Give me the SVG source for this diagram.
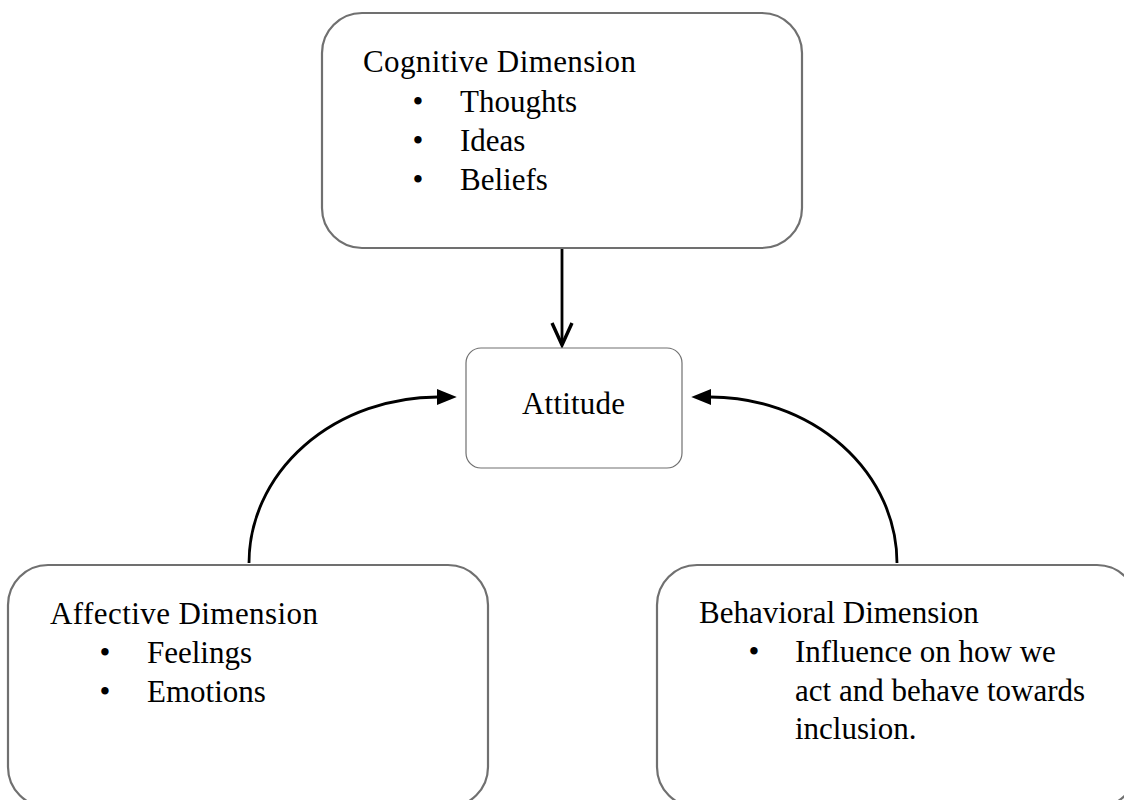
<svg xmlns="http://www.w3.org/2000/svg" width="1124" height="800" viewBox="0 0 1124 800">
<defs>
<style>
.box{fill:#fff;stroke:#707070;stroke-width:2.2}
.small{fill:#fff;stroke:#707070;stroke-width:1.2}
.t{font-family:"Liberation Serif","Times New Roman",serif;font-size:31px;fill:#000}
.conn{fill:none;stroke:#000;stroke-width:2.8}
</style>
<marker id="fill" markerUnits="userSpaceOnUse" markerWidth="20" markerHeight="20" viewBox="0 0 16 14" refX="1" refY="7" orient="auto">
<path d="M0,0.5 L16,7 L0,13.5 z" fill="#000"/>
</marker>
<marker id="open" markerUnits="userSpaceOnUse" markerWidth="30" markerHeight="30" viewBox="-26 -14 30 28" refX="0" refY="0" orient="auto">
<path d="M-22,-10 L0,0 L-22,10" fill="none" stroke="#000" stroke-width="3.4" stroke-linejoin="miter"/>
</marker>
</defs>
<rect width="1124" height="800" fill="#fff"/>
<g id="connectors">
<path class="conn" d="M562,248 L562,345" stroke-width="3" marker-end="url(#open)"/>
<path class="conn" d="M249,563 A189 166 0 0 1 438,397" marker-end="url(#fill)"/>
<path class="conn" d="M897,563 A187 166 0 0 0 710,397" marker-end="url(#fill)"/>
</g>
<g id="cognitive">
<rect class="box" x="322" y="13" width="480" height="235" rx="40" ry="40"/>
<text class="t" x="363" y="72" textLength="273">Cognitive Dimension</text>
<text class="t" x="418" y="112" text-anchor="middle">•</text>
<text class="t" x="460" y="112">Thoughts</text>
<text class="t" x="418" y="151" text-anchor="middle">•</text>
<text class="t" x="460" y="151">Ideas</text>
<text class="t" x="418" y="190" text-anchor="middle">•</text>
<text class="t" x="460" y="190">Beliefs</text>
</g>
<g id="attitude">
<rect class="small" x="466" y="348" width="216" height="120" rx="15" ry="15"/>
<text class="t" x="522" y="414" textLength="103">Attitude</text>
</g>
<g id="affective">
<rect class="box" x="8" y="565" width="480" height="242" rx="40" ry="40"/>
<text class="t" x="50" y="624" textLength="268">Affective Dimension</text>
<text class="t" x="105" y="663" text-anchor="middle">•</text>
<text class="t" x="147" y="663">Feelings</text>
<text class="t" x="105" y="702" text-anchor="middle">•</text>
<text class="t" x="147" y="702">Emotions</text>
</g>
<g id="behavioral">
<rect class="box" x="657" y="565" width="480" height="242" rx="40" ry="40"/>
<text class="t" x="699" y="623">Behavioral Dimension</text>
<text class="t" x="754" y="662" text-anchor="middle">•</text>
<text class="t" x="795" y="662">Influence on how we</text>
<text class="t" x="795" y="701">act and behave towards</text>
<text class="t" x="795" y="739">inclusion.</text>
</g>
</svg>
